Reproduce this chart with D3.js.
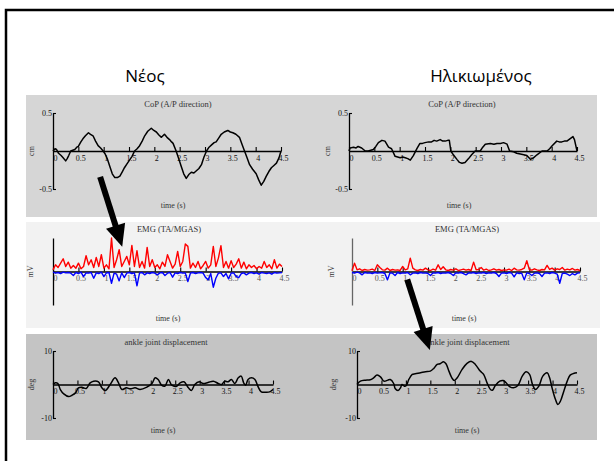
<!DOCTYPE html>
<html>
<head>
<meta charset="utf-8">
<script src="https://cdn.jsdelivr.net/npm/d3@7"></script>
<style>
  body { margin: 0; background: #fff; }
  svg { display: block; }
</style>
</head>
<body>
<div id="chart"></div>
<script>
// ---- data ----
var groupNames = ["Νέος", "Ηλικιωμένος"];

var timeTicks = [0, 0.5, 1, 1.5, 2, 2.5, 3, 3.5, 4, 4.5];
var timeTickLabels = ["0", "0.5", "1", "1.5", "2", "2.5", "3", "3.5", "4", "4.5"];
var copTicks = [-0.5, 0.5];
var copTickLabels = ["-0.5", "0.5"];
var ankleTicks = [-10, 10];
var ankleTickLabels = ["-10", "10"];

// CoP (cm), [time s, value]
var copYoung = [[0,0],[0.04,0.03],[0.07,0.02],[0.11,-0.03],[0.16,-0.06],[0.2,-0.09],[0.25,-0.13],[0.28,-0.1],[0.31,-0.06],[0.35,0],
  [0.39,0.01],[0.43,0.02],[0.47,0.05],[0.5,0.06],[0.55,0.12],[0.59,0.16],[0.64,0.2],[0.7,0.24],[0.74,0.22],[0.79,0.2],
  [0.84,0.13],[0.89,0.07],[0.94,0.04],[0.99,0],[1.03,-0.04],[1.07,-0.1],[1.12,-0.2],[1.17,-0.3],[1.22,-0.35],[1.27,-0.35],
  [1.32,-0.33],[1.37,-0.27],[1.41,-0.22],[1.46,-0.17],[1.51,-0.12],[1.56,-0.07],[1.61,0],[1.66,0.03],[1.71,0.07],[1.76,0.13],
  [1.81,0.2],[1.87,0.26],[1.94,0.3],[1.99,0.27],[2.04,0.25],[2.09,0.21],[2.14,0.18],[2.2,0.22],[2.25,0.18],[2.3,0.15],
  [2.34,0.12],[2.37,0.1],[2.43,0],[2.48,-0.1],[2.53,-0.2],[2.58,-0.3],[2.63,-0.36],[2.68,-0.31],[2.73,-0.28],[2.78,-0.29],
  [2.83,-0.26],[2.88,-0.23],[2.93,-0.18],[2.98,-0.08],[3.03,0],[3.08,0.05],[3.13,0.08],[3.18,0.11],[3.22,0.12],[3.27,0.17],
  [3.32,0.22],[3.38,0.25],[3.45,0.27],[3.5,0.25],[3.55,0.24],[3.61,0.22],[3.68,0.18],[3.73,0.09],[3.78,0],[3.83,-0.09],
  [3.88,-0.18],[3.94,-0.24],[4.01,-0.3],[4.06,-0.38],[4.11,-0.45],[4.16,-0.4],[4.21,-0.33],[4.26,-0.27],[4.31,-0.22],[4.36,-0.19],
  [4.41,-0.16],[4.46,-0.09],[4.5,0]];

var copOld = [[0,0],[0.02,0.04],[0.09,0.05],[0.14,0.04],[0.18,0.06],[0.25,0.04],[0.32,0],[0.38,0],[0.48,0.02],[0.53,0.06],
  [0.58,0.11],[0.65,0.14],[0.71,0.13],[0.78,0.05],[0.84,0.03],[0.91,-0.07],[0.96,-0.08],[1.01,-0.09],[1.06,-0.08],[1.11,-0.09],
  [1.16,-0.1],[1.21,-0.12],[1.27,-0.06],[1.34,0.03],[1.4,0.1],[1.45,0.1],[1.5,0.11],[1.57,0.12],[1.63,0.12],[1.68,0.14],
  [1.73,0.13],[1.8,0.15],[1.85,0.13],[1.9,0.13],[1.95,0.14],[1.98,0.14],[2.01,0],[2.06,-0.05],[2.13,-0.11],[2.18,-0.15],
  [2.23,-0.16],[2.29,-0.15],[2.36,-0.1],[2.42,-0.05],[2.49,0],[2.59,0],[2.64,0.05],[2.69,0.09],[2.79,0.1],[2.86,0.09],
  [2.92,0.1],[2.99,0.1],[3.05,0.11],[3.12,0.09],[3.17,0],[3.25,-0.01],[3.31,-0.03],[3.38,-0.04],[3.45,-0.05],[3.51,-0.06],
  [3.58,-0.11],[3.64,-0.09],[3.71,-0.05],[3.81,0],[3.91,0],[3.96,0.03],[4.01,0.07],[4.1,0.13],[4.15,0.12],[4.2,0.12],
  [4.25,0.13],[4.3,0.13],[4.38,0.17],[4.42,0.19],[4.45,0.15],[4.5,0]];

// EMG (mV, arbitrary scale), one sample every emgStep seconds; red = TA, blue = MGAS
var emgStep = 0.05;
var emgTaYoung = [0.05,0.2,0.12,0.25,0.38,0.15,0.28,0.1,0.18,0.1,0.25,0.08,0.15,0.47,0.2,0.35,0.12,0.42,0.15,0.5,
  0.1,0.2,0.08,1.0,0.12,0.35,0.65,0.15,0.3,0.45,0.2,0.78,0.15,0.62,0.12,0.3,0.1,0.72,0.15,0.35,
  0.12,0.2,0.08,0.28,0.15,0.5,0.3,0.1,0.22,0.6,0.15,0.3,0.82,0.75,0.1,0.25,0.12,0.3,0.08,0.18,
  0.3,0.1,0.2,0.75,0.15,0.4,0.77,0.12,0.3,0.1,0.32,0.12,0.22,0.38,0.1,0.28,0.08,0.2,0.12,0.18,
  0.08,0.15,0.1,0.3,0.12,0.2,0.08,0.35,0.1,0.22,0.15];
var emgGasYoung = [-0.02,-0.05,-0.03,-0.06,-0.02,-0.04,-0.03,-0.05,-0.12,-0.03,-0.06,-0.02,-0.15,-0.04,-0.05,-0.03,-0.2,-0.04,-0.06,-0.02,
  -0.15,-0.04,-0.03,-0.35,-0.05,-0.08,-0.28,-0.04,-0.18,-0.05,-0.03,-0.06,-0.04,-0.43,-0.05,-0.03,-0.1,-0.04,-0.06,-0.03,
  -0.05,-0.1,-0.04,-0.03,-0.12,-0.05,-0.03,-0.17,-0.04,-0.06,-0.03,-0.05,-0.04,-0.3,-0.05,-0.03,-0.06,-0.04,-0.03,-0.05,
  -0.18,-0.25,-0.06,-0.47,-0.2,-0.05,-0.04,-0.15,-0.06,-0.22,-0.05,-0.04,-0.15,-0.18,-0.06,-0.04,-0.1,-0.05,-0.03,-0.06,
  -0.04,-0.08,-0.03,-0.05,-0.06,-0.04,-0.08,-0.03,-0.05,-0.04,-0.03];
var emgTaOld = [0.02,0.25,0.05,0.08,0.03,0.06,0.04,0.05,0.07,0.03,0.2,0.12,0.05,0.04,0.1,0.03,0.06,0.04,0.05,0.03,
  0.15,0.05,0.08,0.4,0.1,0.05,0.03,0.06,0.04,0.1,0.05,0.03,0.07,0.04,0.2,0.06,0.14,0.05,0.03,0.06,
  0.04,0.08,0.03,0.05,0.07,0.04,0.06,0.03,0.28,0.05,0.06,0.12,0.04,0.07,0.03,0.05,0.08,0.04,0.06,0.03,
  0.05,0.04,0.07,0.03,0.1,0.05,0.04,0.06,0.1,0.32,0.06,0.04,0.08,0.05,0.03,0.06,0.05,0.18,0.06,0.1,
  0.04,0.08,0.06,0.12,0.04,0.07,0.05,0.09,0.04,0.06,0.03];
var emgGasOld = [-0.03,-0.05,-0.02,-0.04,-0.1,-0.03,-0.05,-0.04,-0.06,-0.03,-0.05,-0.04,-0.03,-0.06,-0.25,-0.04,-0.05,-0.12,-0.03,-0.06,
  -0.04,-0.05,-0.03,-0.1,-0.05,-0.04,-0.06,-0.03,-0.05,-0.04,-0.06,-0.12,-0.04,-0.05,-0.03,-0.06,-0.04,-0.05,-0.03,-0.06,
  -0.12,-0.04,-0.05,-0.03,-0.06,-0.1,-0.04,-0.05,-0.03,-0.06,-0.04,-0.05,-0.03,-0.06,-0.04,-0.05,-0.03,-0.06,-0.15,-0.05,
  -0.04,-0.06,-0.03,-0.05,-0.16,-0.04,-0.06,-0.05,-0.25,-0.04,-0.06,-0.12,-0.05,-0.04,-0.06,-0.15,-0.05,-0.04,-0.06,-0.03,
  -0.05,-0.08,-0.35,-0.06,-0.05,-0.08,-0.12,-0.06,-0.1,-0.05,-0.04];

// ankle joint displacement (deg), [time s, value]
var ankleYoung = [[0,0],[0.05,0.5],[0.1,0.3],[0.15,-1.5],[0.22,-2.8],[0.32,-3.6],[0.39,-3.2],[0.46,-2.5],[0.52,-1.0],[0.59,-0.8],
  [0.68,-1.2],[0.76,0.5],[0.83,1.0],[0.93,0.8],[1.0,-1.0],[1.07,-1.8],[1.17,0],[1.27,2.0],[1.34,0.5],[1.41,-1.5],
  [1.5,-1.0],[1.58,-1.3],[1.68,-1.0],[1.78,-1.5],[1.92,-0.8],[2.02,0.2],[2.09,2.0],[2.15,1.5],[2.22,-0.2],[2.29,-0.5],
  [2.36,1.5],[2.43,-0.2],[2.53,-0.5],[2.6,0.5],[2.68,0.8],[2.77,-1.0],[2.83,-1.8],[2.9,0],[2.99,0.8],[3.07,0.3],
  [3.17,0.6],[3.28,1.0],[3.38,0.3],[3.45,0],[3.51,1.0],[3.58,0.8],[3.65,1.5],[3.72,0.3],[3.79,2.0],[3.85,2.5],
  [3.9,0.5],[3.94,-0.2],[3.99,1.5],[4.06,2.0],[4.13,1.5],[4.19,-0.5],[4.26,-2.2],[4.36,-2.3],[4.43,-2.2],[4.5,-1.5]];
var ankleOld = [[0,0],[0.07,1.0],[0.17,1.3],[0.27,1.4],[0.34,2.0],[0.41,2.8],[0.48,2.3],[0.55,1.0],[0.63,1.3],[0.68,1.5],
  [0.75,0.3],[0.78,-1.2],[0.84,-1.8],[0.89,-1.0],[0.92,0],[0.97,-0.5],[1.01,-0.3],[1.06,1.5],[1.13,3.0],[1.19,3.2],
  [1.3,3.5],[1.4,3.8],[1.5,4.0],[1.57,4.8],[1.64,6.0],[1.7,6.2],[1.77,6.8],[1.82,6.2],[1.88,4.0],[1.94,2.0],
  [1.99,1.2],[2.05,2.0],[2.15,4.5],[2.25,6.3],[2.34,6.9],[2.42,6.0],[2.52,4.0],[2.59,3.0],[2.66,0.5],[2.73,-1.5],
  [2.77,-1.7],[2.83,-0.3],[2.92,1.0],[2.99,1.2],[3.05,0.5],[3.12,-0.6],[3.2,-1.0],[3.29,-0.3],[3.38,2.5],[3.46,3.8],
  [3.53,3.0],[3.59,0],[3.65,-1.5],[3.72,-0.5],[3.8,2.5],[3.89,3.5],[3.94,2.0],[3.99,-1.0],[4.06,-4.5],[4.11,-6.0],
  [4.16,-5.0],[4.23,-2.0],[4.3,1.0],[4.36,2.8],[4.43,3.3],[4.5,3.5]];

// ---- drawing ----
var svgWidth = 614, svgHeight = 461;
var serif = "'Liberation Serif', 'Times New Roman', serif";

var svg = d3.select("#chart").append("svg")
  .attr("width", svgWidth)
  .attr("height", svgHeight);

// row backgrounds
var rows = [
  {x: 26, y: 95, w: 571, h: 122, fill: "#d6d6d6"},
  {x: 26, y: 222, w: 574, h: 106, fill: "#f2f2f2"},
  {x: 26, y: 334, w: 571, h: 106, fill: "#c4c4c4"}
];
svg.selectAll("rect.row")
  .data(rows)
  .enter()
  .append("rect")
  .attr("class", "row")
  .attr("x", d => d.x).attr("y", d => d.y)
  .attr("width", d => d.w).attr("height", d => d.h)
  .attr("fill", d => d.fill);

// outer frame (runs off the right and bottom edges)
svg.append("rect")
  .attr("x", 6).attr("y", 10)
  .attr("width", 640).attr("height", 480)
  .attr("fill", "none")
  .attr("stroke", "#000")
  .attr("stroke-width", 2.5);

// group headings
svg.selectAll("text.group")
  .data(groupNames)
  .enter()
  .append("text")
  .attr("class", "group")
  .attr("x", (d, i) => [145, 481][i])
  .attr("y", 82)
  .attr("text-anchor", "middle")
  .style("font-family", "'Open Sans', 'Noto Sans', sans-serif")
  .style("font-size", "17px")
  .text(d => d);

var panels = {
  copYoung: {x0: 53, x1: 281, yTop: 113, yBot: 189, yDomain: [-0.5, 0.5], ticks: copTicks, tickLabels: copTickLabels,
    title: "CoP (A/P direction)", titleX: 178, titleY: 107, xlabX: 173, xlabY: 208, unit: "cm", unitX: 31,
    lines: [{data: copYoung, color: "#000"}]},
  copOld: {x0: 349, x1: 577, yTop: 113, yBot: 189, yDomain: [-0.5, 0.5], ticks: copTicks, tickLabels: copTickLabels,
    title: "CoP (A/P direction)", titleX: 462, titleY: 107, xlabX: 459, xlabY: 208, unit: "cm", unitX: 327,
    lines: [{data: copOld, color: "#000"}]},
  emgYoung: {x0: 53, x1: 282, yTop: 238, yBot: 305, yDomain: [-1, 1], ticks: [], tickLabels: [],
    title: "EMG (TA/MGAS)", titleX: 169, titleY: 232, xlabX: 168, xlabY: 321, unit: "mV", unitX: 30,
    labelColor: "#555", yAxisColor: "#000",
    lines: [{data: emgTaYoung, color: "#ff0000", step: true}, {data: emgGasYoung, color: "#0000ff", step: true}]},
  emgOld: {x0: 352, x1: 580, yTop: 238, yBot: 305, yDomain: [-1, 1], ticks: [], tickLabels: [],
    title: "EMG (TA/MGAS)", titleX: 467, titleY: 232, xlabX: 464, xlabY: 321, unit: "mV", unitX: 331,
    labelColor: "#555", yAxisColor: "#666",
    lines: [{data: emgTaOld, color: "#ff0000", step: true}, {data: emgGasOld, color: "#0000ff", step: true}]},
  ankleYoung: {x0: 53, x1: 273, yTop: 351, yBot: 418, yDomain: [-10, 10], ticks: ankleTicks, tickLabels: ankleTickLabels,
    title: "ankle joint displacement", titleX: 166, titleY: 345, xlabX: 163, xlabY: 433, unit: "deg", unitX: 31,
    smooth: true, lines: [{data: ankleYoung, color: "#000"}]},
  ankleOld: {x0: 357, x1: 577, yTop: 351, yBot: 418, yDomain: [-10, 10], ticks: ankleTicks, tickLabels: ankleTickLabels,
    title: "ankle joint displacement", titleX: 468, titleY: 345, xlabX: 467, xlabY: 433, unit: "deg", unitX: 333,
    smooth: true, lines: [{data: ankleOld, color: "#000"}]}
};

function drawPanel(p) {
  var g = svg.append("g");
  p.x = d3.scaleLinear().domain([0, 4.5]).range([p.x0, p.x1]);
  p.y = d3.scaleLinear().domain(p.yDomain).range([p.yBot, p.yTop]);
  var labelColor = p.labelColor || "#111";

  var xAxis = d3.axisBottom(p.x)
    .tickValues(timeTicks)
    .tickFormat((d, i) => timeTickLabels[i])
    .tickSizeInner(-4).tickSizeOuter(0).tickPadding(4);
  var xg = g.append("g")
    .attr("transform", `translate(0, ${p.y(0)})`)
    .call(xAxis);
  xg.select(".domain").attr("stroke", "#000").attr("stroke-width", 1.3);
  xg.selectAll(".tick line").attr("stroke", "#000").attr("stroke-width", 1.1);
  xg.selectAll(".tick text")
    .attr("x", 2)
    .attr("fill", labelColor)
    .style("font-family", serif)
    .style("font-size", "8px");

  var yAxis = d3.axisLeft(p.y)
    .tickValues(p.ticks)
    .tickFormat((d, i) => p.tickLabels[i])
    .tickSizeInner(-3).tickSizeOuter(0).tickPadding(1);
  var yg = g.append("g")
    .attr("transform", `translate(${p.x0}, 0)`)
    .call(yAxis);
  yg.select(".domain").attr("stroke", p.yAxisColor || "#000").attr("stroke-width", 1.3);
  yg.selectAll(".tick line").attr("stroke", "#000").attr("stroke-width", 1.1);
  yg.selectAll(".tick text")
    .attr("fill", labelColor)
    .style("font-family", serif)
    .style("font-size", "8px");

  var line = d3.line()
    .curve(p.smooth ? d3.curveCatmullRom : d3.curveLinear);

  p.lines.forEach(function (s) {
    var pts = s.step
      ? s.data.map((v, i) => [p.x(i * emgStep), p.y(v)])
      : s.data.map(d => [p.x(d[0]), p.y(d[1])]);
    g.append("path")
      .attr("d", line(pts))
      .attr("fill", "none")
      .attr("stroke", s.color)
      .attr("stroke-width", s.step ? 1.4 : 1.5)
      .attr("stroke-linejoin", "round");
  });

  g.append("text")
    .attr("x", p.titleX).attr("y", p.titleY)
    .attr("text-anchor", "middle")
    .attr("fill", "#333")
    .style("font-family", serif)
    .style("font-size", "8.5px")
    .text(p.title);

  g.append("text")
    .attr("x", p.xlabX).attr("y", p.xlabY)
    .attr("text-anchor", "middle")
    .attr("fill", "#333")
    .style("font-family", serif)
    .style("font-size", "8px")
    .text("time (s)");

  g.append("text")
    .attr("transform", `translate(${p.unitX}, ${p.y(0)}) rotate(-90)`)
    .attr("dy", "0.35em")
    .attr("text-anchor", "middle")
    .attr("fill", "#333")
    .style("font-family", serif)
    .style("font-size", "8px")
    .text(p.unit);
}

Object.keys(panels).forEach(k => drawPanel(panels[k]));

// arrows from one panel into the next, anchored in each panel's own units
function drawArrow(fromP, ft, fv, toP, tt, tv) {
  var x1 = fromP.x(ft), y1 = fromP.y(fv);
  var x2 = toP.x(tt), y2 = toP.y(tv);
  var dx = x2 - x1, dy = y2 - y1, len = Math.sqrt(dx * dx + dy * dy);
  var ux = dx / len, uy = dy / len;
  var headLen = 22, headHalf = 10;
  var bx = x2 - ux * headLen, by = y2 - uy * headLen;
  svg.append("line")
    .attr("x1", x1).attr("y1", y1)
    .attr("x2", bx + ux * 2).attr("y2", by + uy * 2)
    .attr("stroke", "#000")
    .attr("stroke-width", 6);
  svg.append("path")
    .attr("d", `M${x2},${y2}L${bx - uy * headHalf},${by + ux * headHalf}L${bx + uy * headHalf},${by - ux * headHalf}Z`)
    .attr("fill", "#000");
}

drawArrow(panels.copYoung, 0.93, -0.34, panels.emgYoung, 1.36, 0.74);
drawArrow(panels.emgOld, 1.09, -0.24, panels.ankleOld, 1.49, 10.3);
</script>
</body>
</html>
